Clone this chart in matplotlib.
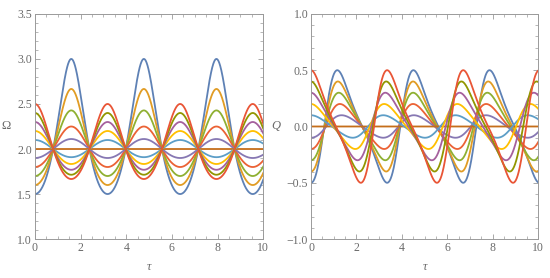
import numpy as np
import matplotlib.pyplot as plt
from matplotlib.ticker import MultipleLocator

# starting values (one per curve)
omega_start = [1.5, 1.6, 1.7, 1.8, 1.9, 2.0, 2.1, 2.2, 2.3, 2.4, 2.5]
q_start = [-0.5, -0.4, -0.3, -0.2, -0.1, 0.0, 0.1, 0.2, 0.3, 0.4, 0.5]

# oscillation period of Omega (common nodes at Omega = 2)
omega_period = 3.18
# Q: period and skew of each curve (bigger swing -> longer, more lopsided)
q_period = [3.35, 3.31, 3.27, 3.22, 3.18, 3.14, 3.18, 3.22, 3.27, 3.31, 3.35]
q_skew = [0.55, 0.5, 0.43, 0.35, 0.25, 0.0, 0.25, 0.35, 0.43, 0.5, 0.55]

colors = ["#5E81B5", "#E19C24", "#8FB032", "#EB6235", "#8778B3", "#C56E1A",
          "#5D9EC7", "#FFBF00", "#A5609D", "#929600", "#E95536"]

tau = np.linspace(0, 10, 1200)

grey = "#9a9a9a"
label_grey = "#6a6a6a"
serif = ["Liberation Serif", "DejaVu Serif"]

fig = plt.figure(figsize=(5.5, 2.78), dpi=100)
ax1 = fig.add_axes([0.0636, 0.140, 0.415, 0.810])
ax2 = fig.add_axes([0.5655, 0.140, 0.413, 0.810])

# left panel: Omega
for w0, c in zip(omega_start, colors):
    a = 2.0 / w0 - 1.0
    om = 2.0 / (1.0 + a * np.cos(2 * np.pi * tau / omega_period))
    ax1.plot(tau, om, color=c, lw=1.3)

# right panel: Q
for q0, T, e, c in zip(q_start, q_period, q_skew, colors):
    amp = abs(q0)
    target = -np.pi / 2 if q0 < 0 else np.pi / 2
    phi0 = target
    for _ in range(50):
        phi0 = target - e * np.sin(phi0)
    phi = phi0 + 2 * np.pi * tau / T
    q = amp * np.sin(phi + e * np.sin(phi))
    ax2.plot(tau, q, color=c, lw=1.3)

for ax, ylo, yhi in [(ax1, 1.0, 3.5), (ax2, -1.0, 1.0)]:
    ax.set_xlim(0, 10)
    ax.set_ylim(ylo, yhi)
    ax.xaxis.set_major_locator(MultipleLocator(2))
    ax.xaxis.set_minor_locator(MultipleLocator(0.5))
    ax.yaxis.set_major_locator(MultipleLocator(0.5))
    ax.yaxis.set_minor_locator(MultipleLocator(0.1))
    ax.tick_params(which="both", direction="in", top=True, right=True,
                   color=grey, labelcolor=label_grey, labelsize=8.5, pad=2)
    ax.tick_params(which="major", length=3.5, width=0.6)
    ax.tick_params(which="minor", length=2, width=0.5)
    for s in ax.spines.values():
        s.set_color(grey)
        s.set_linewidth(0.7)
    for lab in ax.get_xticklabels() + ax.get_yticklabels():
        lab.set_family(serif)
    ax.set_xlabel("τ", family=serif, style="italic", fontsize=9,
                  color=label_grey, labelpad=5)

ax1.yaxis.set_major_formatter(lambda v, p: f"{v:.1f}")
ax2.yaxis.set_major_formatter(lambda v, p: f"{v:.1f}".replace("-", "\u2212"))
ax1.xaxis.set_major_formatter(lambda v, p: f"{v:.0f}")
ax2.xaxis.set_major_formatter(lambda v, p: f"{v:.0f}")

ax1.set_ylabel("Ω", family=serif, fontsize=9, color=label_grey,
               rotation=0, labelpad=8, va="center")
ax2.set_ylabel("Q", family=serif, style="italic", fontsize=9,
               color=label_grey, rotation=0, labelpad=8, va="center")

fig.savefig("out.png", dpi=100)
